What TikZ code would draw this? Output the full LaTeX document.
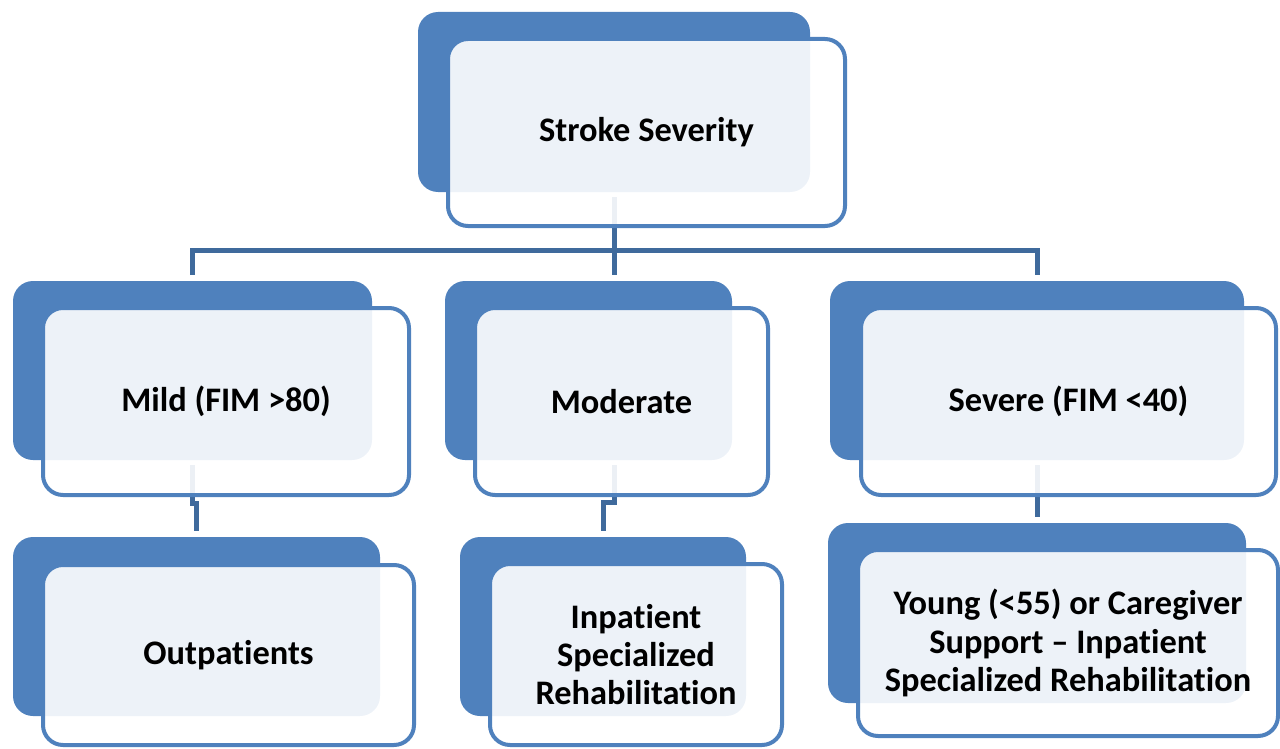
\documentclass[tikz,border=0pt]{standalone}
\usepackage{fontspec}
\setmainfont{Carlito}[Ligatures=NoCommon]
\definecolor{accent}{HTML}{4F81BD}
\definecolor{linkblue}{HTML}{3F6A9C}

\begin{document}
\begin{tikzpicture}[x=0.5pt, y=-0.5pt,
  backbox/.style={fill=accent, rounded corners=10pt, inner sep=0pt},
  frontbox/.style={draw=accent, line width=2pt, fill=white, fill opacity=0.9,
    text opacity=1, rounded corners=10pt, align=center, inner sep=0pt,
    font=\fontsize{17.2}{19.2}\selectfont\bfseries},
  link/.style={draw=linkblue, line width=2.5pt, shorten <=2.5pt, shorten >=3pt}]
  \useasboundingbox (0,0) rectangle (1280,749);

  % Stroke severity (back plate)
  \node[backbox, minimum width=196pt, minimum height=90pt] (strokeb) at (614,102) {};

  % second row
  \node[backbox, minimum width=179.5pt, minimum height=89.5pt] (mildb) at (192.5,370.5) {};
  \node[backbox, minimum width=143.5pt, minimum height=89.5pt] (modb) at (588.5,370.5) {};
  \node[backbox, minimum width=207pt, minimum height=89.5pt] (sevb) at (1037,370.5) {};

  % third row
  \node[backbox, minimum width=183.5pt, minimum height=89.5pt] (outb) at (196.5,626.5) {};
  \node[backbox, minimum width=143pt, minimum height=89.5pt] (inpb) at (603,626.5) {};
  \node[backbox, minimum width=209pt, minimum height=90pt] (youngb) at (1037,613) {};

  % links
  \draw[link] (strokeb.south) -- ++(0,58) -| (mildb.north);
  \draw[link] (strokeb.south) -- ++(0,58) -| (sevb.north);
  \draw[link] (strokeb.south) -- (strokeb.south |- modb.north);
  \draw[link] (mildb.south) -- ++(0,43) -| (outb.north);
  \draw[link] (modb.south -| strokeb.south) -- ++(0,42) -| (inpb.north);
  \draw[link] (sevb.south) -- (youngb.north);

  % front cards
  \node[frontbox, minimum width=198.5pt, minimum height=93.5pt] (stroke) at (646.5,132.5) {Stroke Severity};
  \node[frontbox, minimum width=183pt, minimum height=93.5pt] (mild) at (226,401.5) {Mild (FIM >80)};
  \node[frontbox, minimum width=146.5pt, minimum height=93.5pt] (mod) at (621.5,401.5) {Moderate};
  \node[frontbox, minimum width=207.5pt, minimum height=93.5pt] (sev) at (1068.5,401.5) {Severe (FIM <40)};

  \node[frontbox, minimum width=185.5pt, minimum height=90pt] (out) at (228.5,655) {Outpatients};
  \node[frontbox, minimum width=146pt, minimum height=90.5pt] (inp) at (636,654.5) {Inpatient\\Specialized\\Rehabilitation};
  \node[frontbox, minimum width=210pt, minimum height=93pt] (young) at (1068,643) {Young (<55) or Caregiver\\Support -- Inpatient\\Specialized Rehabilitation};
\end{tikzpicture}
\end{document}
